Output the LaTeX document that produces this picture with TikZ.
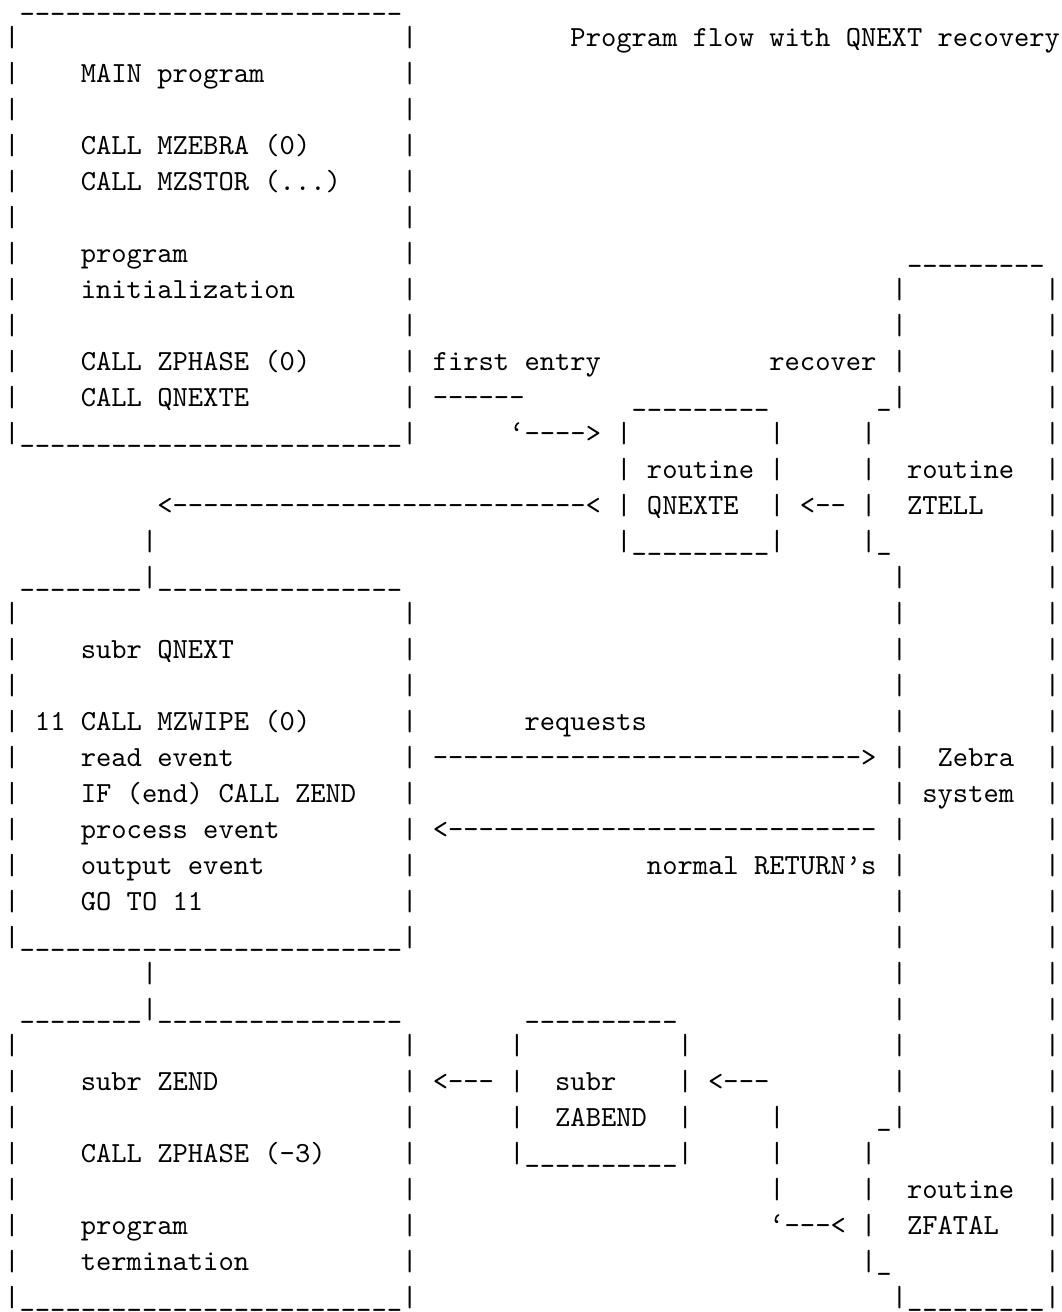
\documentclass[tikz,border=0pt]{standalone}
\font\asc="[lmmono10-regular.otf]" at 14.571pt
\ExplSyntaxOn
\cs_new:Npn \reprun #1#2 { \prg_replicate:nn {#1} {#2} }
\ExplSyntaxOff
\tikzset{tx/.style={anchor=base west, inner sep=0pt, outer sep=0pt, font=\asc\frenchspacing}}
% place text at row #1, column #2
\newcommand\T[3]{\node[tx] (t#1-#2) at ({4.35+15.3*#2},{10.5+36*#1}) {#3};}
\newcommand\U[3]{\T{#1}{#2}{\reprun{#3}{\_}}}
\begin{document}
\begin{tikzpicture}[x=0.5pt,y=-0.5pt]
\fill[white] (0,0) rectangle (1061,1312);
\useasboundingbox (0,0) rectangle (1061,1312);
% row 0
\U{0}{1}{25}
% rows 1-11 MAIN box
\T{1}{0}{|}\T{1}{26}{|}\T{1}{37}{Program flow with QNEXT recovery}
\T{2}{0}{|}\T{2}{5}{MAIN program}\T{2}{26}{|}
\T{3}{0}{|}\T{3}{26}{|}
\T{4}{0}{|}\T{4}{5}{CALL MZEBRA (0)}\T{4}{26}{|}
\T{5}{0}{|}\T{5}{5}{CALL MZSTOR (...)}\T{5}{26}{|}
\T{6}{0}{|}\T{6}{26}{|}
\T{7}{0}{|}\T{7}{5}{program}\T{7}{26}{|}\U{7}{59}{9}
\T{8}{0}{|}\T{8}{5}{initialization}\T{8}{26}{|}\T{8}{58}{|}\T{8}{68}{|}
\T{9}{0}{|}\T{9}{26}{|}\T{9}{58}{|}\T{9}{68}{|}
\T{10}{0}{|}\T{10}{5}{CALL ZPHASE (0)}\T{10}{26}{|}\T{10}{28}{first entry}\T{10}{50}{recover}\T{10}{58}{|}\T{10}{68}{|}
\T{11}{0}{|}\T{11}{5}{CALL QNEXTE}\T{11}{26}{|}\T{11}{28}{------}\U{11}{41}{9}\T{11}{57}{\_|}\T{11}{68}{|}
\T{12}{0}{|}\U{12}{1}{25}\T{12}{26}{|}\T{12}{33}{‘---->}\T{12}{40}{|}\T{12}{50}{|}\T{12}{56}{|}\T{12}{68}{|}
% QNEXTE / ZTELL
\T{13}{40}{|}\T{13}{42}{routine}\T{13}{50}{|}\T{13}{56}{|}\T{13}{59}{routine}\T{13}{68}{|}
\T{14}{10}{<---------------------------<}\T{14}{40}{|}\T{14}{42}{QNEXTE}\T{14}{50}{|}\T{14}{52}{<--}\T{14}{56}{|}\T{14}{59}{ZTELL}\T{14}{68}{|}
\T{15}{9}{|}\T{15}{40}{|}\U{15}{41}{9}\T{15}{50}{|}\T{15}{56}{|\_}\T{15}{68}{|}
% QNEXT box
\U{16}{1}{8}\T{16}{9}{|}\U{16}{10}{16}\T{16}{58}{|}\T{16}{68}{|}
\T{17}{0}{|}\T{17}{26}{|}\T{17}{58}{|}\T{17}{68}{|}
\T{18}{0}{|}\T{18}{5}{subr QNEXT}\T{18}{26}{|}\T{18}{58}{|}\T{18}{68}{|}
\T{19}{0}{|}\T{19}{26}{|}\T{19}{58}{|}\T{19}{68}{|}
\T{20}{0}{|}\T{20}{2}{11 CALL MZWIPE (0)}\T{20}{26}{|}\T{20}{34}{requests}\T{20}{58}{|}\T{20}{68}{|}
\T{21}{0}{|}\T{21}{5}{read event}\T{21}{26}{|}\T{21}{28}{---------------------------->}\T{21}{58}{|}\T{21}{61}{Zebra}\T{21}{68}{|}
\T{22}{0}{|}\T{22}{5}{IF (end) CALL ZEND}\T{22}{26}{|}\T{22}{58}{|}\T{22}{60}{system}\T{22}{68}{|}
\T{23}{0}{|}\T{23}{5}{process event}\T{23}{26}{|}\T{23}{28}{<----------------------------}\T{23}{58}{|}\T{23}{68}{|}
\T{24}{0}{|}\T{24}{5}{output event}\T{24}{26}{|}\T{24}{42}{normal RETURN’s}\T{24}{58}{|}\T{24}{68}{|}
\T{25}{0}{|}\T{25}{5}{GO TO 11}\T{25}{26}{|}\T{25}{58}{|}\T{25}{68}{|}
\T{26}{0}{|}\U{26}{1}{25}\T{26}{26}{|}\T{26}{58}{|}\T{26}{68}{|}
\T{27}{9}{|}\T{27}{58}{|}\T{27}{68}{|}
% ZEND / ZABEND / ZFATAL
\U{28}{1}{8}\T{28}{9}{|}\U{28}{10}{16}\U{28}{34}{10}\T{28}{58}{|}\T{28}{68}{|}
\T{29}{0}{|}\T{29}{26}{|}\T{29}{33}{|}\T{29}{44}{|}\T{29}{58}{|}\T{29}{68}{|}
\T{30}{0}{|}\T{30}{5}{subr ZEND}\T{30}{26}{|}\T{30}{28}{<---}\T{30}{33}{|}\T{30}{36}{subr}\T{30}{44}{|}\T{30}{46}{<---}\T{30}{58}{|}\T{30}{68}{|}
\T{31}{0}{|}\T{31}{26}{|}\T{31}{33}{|}\T{31}{36}{ZABEND}\T{31}{44}{|}\T{31}{50}{|}\T{31}{57}{\_|}\T{31}{68}{|}
\T{32}{0}{|}\T{32}{5}{CALL ZPHASE (-3)}\T{32}{26}{|}\T{32}{33}{|}\U{32}{34}{10}\T{32}{44}{|}\T{32}{50}{|}\T{32}{56}{|}\T{32}{68}{|}
\T{33}{0}{|}\T{33}{26}{|}\T{33}{50}{|}\T{33}{56}{|}\T{33}{59}{routine}\T{33}{68}{|}
\T{34}{0}{|}\T{34}{5}{program}\T{34}{26}{|}\T{34}{50}{‘---<}\T{34}{56}{|}\T{34}{59}{ZFATAL}\T{34}{68}{|}
\T{35}{0}{|}\T{35}{5}{termination}\T{35}{26}{|}\T{35}{56}{|\_}\T{35}{68}{|}
\T{36}{0}{|}\U{36}{1}{25}\T{36}{26}{|}\T{36}{58}{|}\U{36}{59}{9}\T{36}{68}{|}
\end{tikzpicture}
\end{document}
